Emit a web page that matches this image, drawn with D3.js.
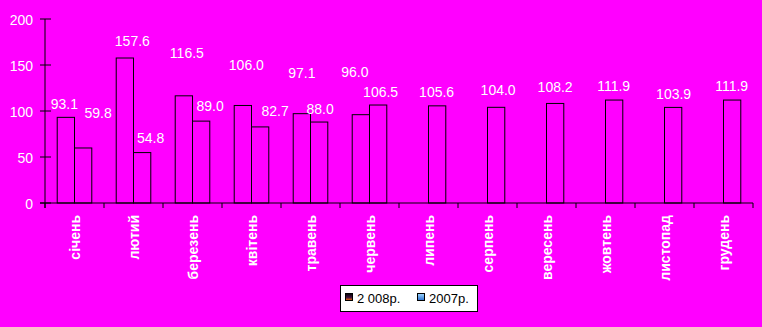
<!DOCTYPE html>
<html>
<head>
<meta charset="utf-8">
<script src="https://cdn.jsdelivr.net/npm/d3@7/dist/d3.min.js"></script>
<style>
  html, body { margin: 0; padding: 0; background: #ff00ff; }
  svg { display: block; }
</style>
</head>
<body>
<script>
// ---- data ----
const months = ["січень","лютий","березень","квітень","травень","червень","липень","серпень","вересень","жовтень","листопад","грудень"];
const values2008 = [93.1, 157.6, 116.5, 106.0, 97.1, 96.0, null, null, null, null, null, null];
const values2007 = [59.8, 54.8, 89.0, 82.7, 88.0, 106.5, 105.6, 104.0, 108.2, 111.9, 103.9, 111.9];
const yTicks = [0, 50, 100, 150, 200];
const seriesNames = ["2 008р.", "2007р."];

// label nudges (layout only): rise above bar top and horizontal shift, px
const rise2008 = [8, 12, 38, 35, 36, 38];
const shift2008 = [-1.5, 7.5, 3, 3.5, 0, -6];
const rise2007 = [30, 10, 10, 11, 8, 8, 9, 12, 11, 9, 8, 9];
const shift2007 = [15, 8.5, 9, 15, 1, 2.5, -0.5, 2, 0, -0.5, 0.5, -0.5];

const W = 762, H = 327;
const svg = d3.select("body").append("svg").attr("width", W).attr("height", H);
svg.append("rect").attr("width", W).attr("height", H).attr("fill", "#ff00ff");

const defs = svg.append("defs");
const g1 = defs.append("linearGradient").attr("id", "sw1").attr("x1", 0).attr("y1", 0).attr("x2", 0).attr("y2", 1);
g1.append("stop").attr("offset", "0%").attr("stop-color", "#000000");
g1.append("stop").attr("offset", "55%").attr("stop-color", "#401040");
g1.append("stop").attr("offset", "100%").attr("stop-color", "#ff6a00");
const g2 = defs.append("linearGradient").attr("id", "sw2").attr("x1", 0).attr("y1", 0).attr("x2", 0).attr("y2", 1);
g2.append("stop").attr("offset", "0%").attr("stop-color", "#9fd8ff");
g2.append("stop").attr("offset", "100%").attr("stop-color", "#2a6fd0");

const x = d3.scaleBand().domain(months).range([45, 753]).paddingInner(0).paddingOuter(0);
const y = d3.scaleLinear().domain([0, 200]).range([203, 19]);
const barW = x.bandwidth() * 0.293;
const fmt = d3.format(".1f");

// bars
const data2008 = months.map((m, i) => ({m, v: values2008[i], i})).filter(d => d.v != null);
const data2007 = months.map((m, i) => ({m, v: values2007[i], i})).filter(d => d.v != null);
const cx = m => x(m) + x.bandwidth() / 2;

svg.append("g").selectAll("rect").data(data2008).join("rect")
  .attr("x", d => cx(d.m) - barW).attr("y", d => y(d.v))
  .attr("width", barW).attr("height", d => y(0) - y(d.v))
  .attr("fill", "#ff00ff").attr("stroke", "#000").attr("stroke-width", 1);

svg.append("g").selectAll("rect").data(data2007).join("rect")
  .attr("x", d => cx(d.m)).attr("y", d => y(d.v))
  .attr("width", barW).attr("height", d => y(0) - y(d.v))
  .attr("fill", "#ff00ff").attr("stroke", "#000").attr("stroke-width", 1);

// axes
const yAxis = svg.append("g").attr("transform", "translate(45,0)")
  .call(d3.axisLeft(y).tickValues(yTicks).tickSize(0).tickPadding(12).tickFormat(d3.format("d")));
yAxis.select(".domain").remove();
yAxis.selectAll("text").attr("fill", "#fff").attr("font-family", "Liberation Sans, Arial, sans-serif")
  .attr("font-size", 14).attr("dy", "0.36em");
svg.append("g").selectAll("line").data(yTicks).join("line")
  .attr("x1", 40).attr("x2", 51).attr("y1", d => y(d)).attr("y2", d => y(d))
  .attr("stroke", "#000");
svg.append("line").attr("x1", 45).attr("x2", 45).attr("y1", y(200)).attr("y2", y(0) + 5).attr("stroke", "#000");

const xAxis = svg.append("g").attr("transform", `translate(0,${y(0)})`)
  .call(d3.axisBottom(x).tickSize(0).tickPadding(0));
xAxis.select(".domain").remove();
xAxis.selectAll("text").remove();
svg.append("line").attr("x1", 40).attr("x2", 753).attr("y1", y(0)).attr("y2", y(0)).attr("stroke", "#000");
const bounds = months.map(m => x(m)).concat([x(months[months.length - 1]) + x.bandwidth()]);
svg.append("g").selectAll("line").data(bounds).join("line")
  .attr("x1", d => d).attr("x2", d => d).attr("y1", y(0)).attr("y2", y(0) + 5).attr("stroke", "#000");

// month labels
svg.append("g").selectAll("text").data(months).join("text")
  .attr("transform", m => `translate(${cx(m) + 5},215) rotate(-90)`)
  .attr("text-anchor", "end")
  .attr("fill", "#fff").attr("font-family", "Liberation Sans, Arial, sans-serif")
  .attr("font-size", 14).attr("font-weight", "bold")
  .text(m => m);

// value labels
const lab = svg.append("g").attr("font-family", "Liberation Sans, Arial, sans-serif")
  .attr("font-size", 14).attr("fill", "#fff").attr("text-anchor", "middle");
lab.selectAll("text.a").data(data2008).join("text").attr("class", "a")
  .attr("x", d => cx(d.m) - barW / 2 + shift2008[d.i])
  .attr("y", d => y(d.v) - rise2008[d.i])
  .text(d => fmt(d.v));
lab.selectAll("text.b").data(data2007).join("text").attr("class", "b")
  .attr("x", d => cx(d.m) + barW / 2 + shift2007[d.i])
  .attr("y", d => y(d.v) - rise2007[d.i])
  .text(d => fmt(d.v));

// legend
const lg = svg.append("g");
lg.append("rect").attr("x", 340.5).attr("y", 285.5).attr("width", 137).attr("height", 26)
  .attr("fill", "#fff").attr("stroke", "#000");
const items = [{name: seriesNames[0], fill: "url(#sw1)", sx: 345, tx: 357},
               {name: seriesNames[1], fill: "url(#sw2)", sx: 417, tx: 429}];
items.forEach(it => {
  lg.append("rect").attr("x", it.sx + 0.5).attr("y", 293.5).attr("width", 7).attr("height", 7)
    .attr("fill", it.fill).attr("stroke", "#000");
  lg.append("text").attr("x", it.tx).attr("y", 302.5)
    .attr("font-family", "Liberation Sans, Arial, sans-serif").attr("font-size", 13)
    .attr("fill", "#000").text(it.name);
});
</script>
</body>
</html>
